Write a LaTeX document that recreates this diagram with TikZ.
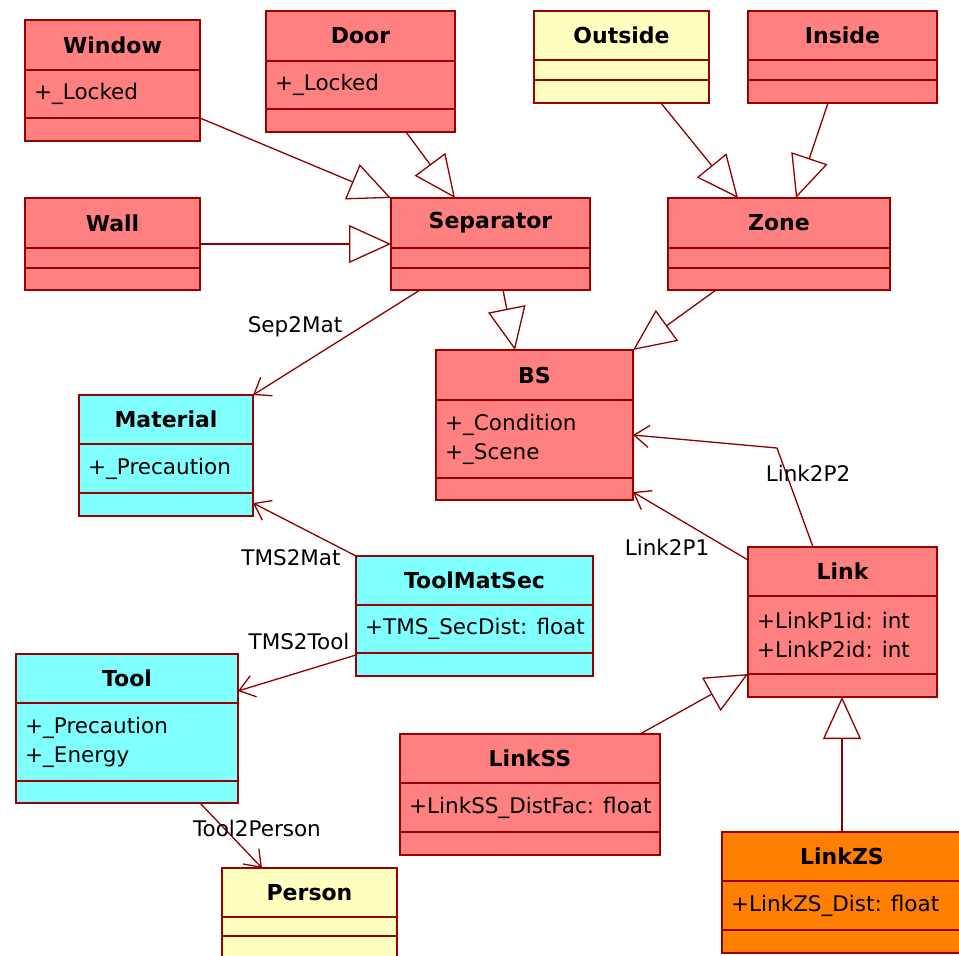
\documentclass[tikz,border=0pt]{standalone}
\usepackage{fontspec}
\setmainfont{DejaVu Sans}
\usepackage{xcolor}
\usepackage{tikz}
\usetikzlibrary{positioning,arrows.meta,calc}
\definecolor{clsRed}{HTML}{FF8080}
\definecolor{clsCyan}{HTML}{80FFFF}
\definecolor{clsYellow}{HTML}{FFFFC0}
\definecolor{clsOrange}{HTML}{FF8000}
\definecolor{clsBorder}{HTML}{990000}
\definecolor{wireRed}{HTML}{8B0000}

% class box: name, fill, top-left, width, header / attr / op heights, title, attributes
\newcommand{\umlclass}[9]{%
  \node[clsbox, fill=#2, minimum width=#4pt, minimum height=#5pt+#6pt+#7pt] (#1) at (#3) {};
  \draw[clsline] ($(#1.north west)+(0,-#5)$) -- ($(#1.north east)+(0,-#5)$);
  \draw[clsline] ($(#1.north west)+(0,-#5-#6)$) -- ($(#1.north east)+(0,-#5-#6)$);
  \node[clstitle] (#1-title) at ($(#1.north)+(0,-#5/2)$) {#8};
  \if\relax\detokenize{#9}\relax\else
    \node[clsattr] (#1-attr) at ($(#1.north west)+(8,-#5-#6/2)$) {#9};
  \fi
}

\begin{document}
\begin{tikzpicture}[x=1pt, y=1pt,
  clsbox/.style={draw=clsBorder, line width=1.8pt, anchor=north west, inner sep=0pt, outer sep=0pt},
  clsline/.style={draw=clsBorder, line width=1.8pt},
  clstitle/.style={font=\fontsize{22}{26}\selectfont\bfseries, inner sep=0pt},
  clsattr/.style={font=\fontsize{21.5}{29}\selectfont, anchor=west, align=left, inner sep=1pt},
  wirelabel/.style={font=\fontsize{21.5}{26}\selectfont, inner sep=0pt},
  gen/.style={draw=wireRed, line width=1.3pt, -{Triangle[open, length=42pt, width=38pt]}},
  assoc/.style={draw=wireRed, line width=1.3pt, -{Straight Barb[length=15pt, width=22pt]}}]
  \useasboundingbox (0,0) rectangle (959,-956);

  % classes
  \umlclass{window}{clsRed}{25,-20}{175}{50}{48}{23}{Window}{+\_Locked}
  \umlclass{door}{clsRed}{266,-11}{189}{50}{48}{23}{Door}{+\_Locked}
  \umlclass{outside}{clsYellow}{534,-11}{175}{49}{20}{23}{Outside}{}
  \umlclass{inside}{clsRed}{748,-11}{189}{49}{20}{23}{Inside}{}
  \umlclass{wall}{clsRed}{25,-198}{175}{50}{20}{22}{Wall}{}
  \umlclass{sep}{clsRed}{391,-198}{199}{50}{20}{22}{Separator}{}
  \umlclass{zone}{clsRed}{668,-198}{222}{50}{20}{22}{Zone}{}
  \umlclass{bs}{clsRed}{436,-350}{197}{50}{78}{22}{BS}{+\_Condition\\+\_Scene}
  \umlclass{material}{clsCyan}{79,-395}{174}{49}{49}{23}{Material}{+\_Precaution}
  \umlclass{tms}{clsCyan}{356,-556}{237}{49}{48}{23}{ToolMatSec}{+TMS\_SecDist: float}
  \umlclass{link}{clsRed}{748,-547}{189}{49}{78}{23}{Link}{+LinkP1id: int\\+LinkP2id: int}
  \umlclass{tool}{clsCyan}{16,-654}{222}{49}{78}{22}{Tool}{+\_Precaution\\+\_Energy}
  \umlclass{linkss}{clsRed}{400,-734}{260}{49}{49}{23}{LinkSS}{+LinkSS\_DistFac: float}
  \umlclass{linkzs}{clsOrange}{722,-832}{240}{49}{49}{23}{LinkZS}{+LinkZS\_Dist: float}
  \umlclass{person}{clsYellow}{222,-868}{175}{49}{19}{26}{Person}{}

  % generalizations
  \draw[gen] ([yshift=-37.5pt]window.east) -- (sep.north west);
  \draw[gen] ([xshift=45.5pt]door.south) -- ([xshift=-35.5pt]sep.north);
  \draw[gen] (wall.east) -- (sep.west);
  \draw[gen] ([xshift=39.5pt]outside.south) -- ([xshift=-41pt]zone.north);
  \draw[gen] ([xshift=-14.5pt]inside.south) -- ([xshift=17pt]zone.north);
  \draw[gen] ([xshift=12.5pt]sep.south) -- ([xshift=-19.5pt]bs.north);
  \draw[gen] ([xshift=-63pt]zone.south) -- (bs.north east);
  \draw[gen] ([xshift=110pt]linkss.north) -- ([yshift=-52pt]link.west);
  \draw[gen] (linkzs.north) -- (linkzs.north |- link.south);

  % associations
  \coordinate (bend) at (777,-448);
  \draw[assoc] ([xshift=-70.5pt]sep.south) -- (material.north east);
  \draw[assoc] (tms.north west) -- ([yshift=-47.5pt]material.east);
  \draw[assoc] ([yshift=-39pt]tms.west) -- ([yshift=37.5pt]tool.east);
  \draw[assoc] ([xshift=73pt]tool.south) -- ([xshift=-47.5pt]person.north);
  \draw[assoc] ([yshift=62pt]link.west) -- ([yshift=-67pt]bs.east);
  \draw[assoc] ([xshift=-29.5pt]link.north) -- (bend) -- ([yshift=-10pt]bs.east);

  % association labels
  \node[wirelabel] (l-sep2mat) at (295,-327) {Sep2Mat};
  \node[wirelabel] (l-tms2mat) at (291,-558) {TMS2Mat};
  \node[wirelabel] (l-tms2tool) at (299,-641) {TMS2Tool};
  \node[wirelabel] (l-tool2person) at (257,-828) {Tool2Person};
  \node[wirelabel] (l-link2p1) at (667,-547) {Link2P1};
  \node[wirelabel] (l-link2p2) at (808,-473) {Link2P2};
\end{tikzpicture}
\end{document}
